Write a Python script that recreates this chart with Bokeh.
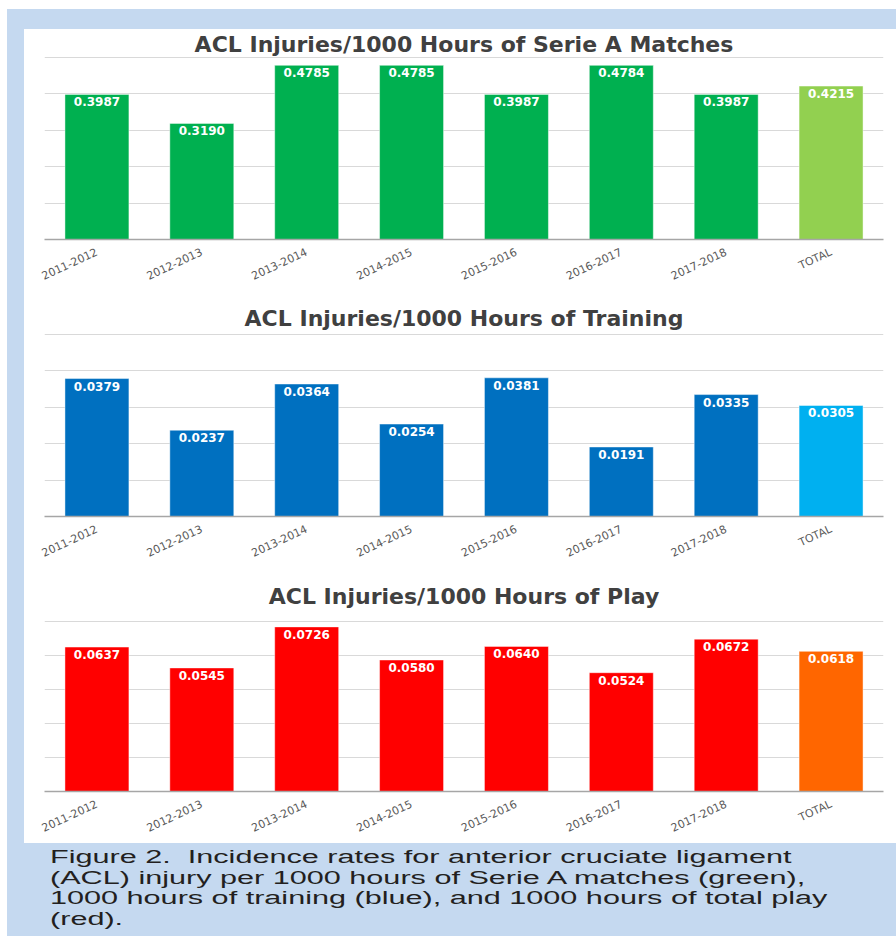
import math
from bokeh.plotting import figure
from bokeh.models import ColumnDataSource, FactorRange, Range1d, FixedTicker, LabelSet, Div
from bokeh.layouts import column, row
from bokeh.embed import file_html
from bokeh.resources import INLINE
from bokeh.core.properties import value

# ---------------- data ----------------
seasons = ["2011-2012", "2012-2013", "2013-2014", "2014-2015",
           "2015-2016", "2016-2017", "2017-2018", "TOTAL"]
matches_rate = [0.3987, 0.3190, 0.4785, 0.4785, 0.3987, 0.4784, 0.3987, 0.4215]
training_rate = [0.0379, 0.0237, 0.0364, 0.0254, 0.0381, 0.0191, 0.0335, 0.0305]
play_rate = [0.0637, 0.0545, 0.0726, 0.0580, 0.0640, 0.0524, 0.0672, 0.0618]

matches_ticks = [0, 0.1, 0.2, 0.3, 0.4, 0.5]
training_ticks = [0, 0.01, 0.02, 0.03, 0.04, 0.05]
play_ticks = [0, 0.015, 0.03, 0.045, 0.06, 0.075]

title_matches = "ACL Injuries/1000 Hours of Serie A Matches"
title_training = "ACL Injuries/1000 Hours of Training"
title_play = "ACL Injuries/1000 Hours of Play"

caption_lines = [
    "Figure 2.&nbsp; Incidence rates for anterior cruciate ligament",
    "(ACL) injury per 1000 hours of Serie A matches (green),",
    "1000 hours of training (blue), and 1000 hours of total play",
    "(red).",
]

BLUE_BG = "#c5d9f0"
FIG_W = 872
LABEL_ANGLE = 25
LABEL_STANDOFF = 12
LABEL_SIZE = "11px"
B_LEFT = 20
B_RIGHT = 13


def make_chart(title, rates, ticks, season_color, total_color,
               height, b_top, b_bottom, standoff):
    colors = [total_color if s == "TOTAL" else season_color for s in seasons]
    src = ColumnDataSource(dict(
        season=seasons, rate=rates, color=colors,
        label=[f"{v:.4f}" for v in rates],
    ))
    pad = (ticks[-1] - ticks[0]) / 180.0
    p = figure(
        x_range=FactorRange(*seasons), y_range=Range1d(ticks[0], ticks[-1] + pad),
        width=FIG_W, height=height, output_backend="svg", toolbar_location=None,
        min_border_left=B_LEFT, min_border_right=B_RIGHT,
        min_border_top=b_top, min_border_bottom=b_bottom,
        background_fill_color="white", border_fill_color="white",
    )
    p.outline_line_color = None
    p.title.text = title
    p.title.align = "center"
    p.title.text_font = "DejaVu Sans"
    p.title.text_font_style = "bold"
    p.title.text_font_size = "22px"
    p.title.text_color = "#404040"
    p.title.standoff = standoff

    p.vbar(x="season", top="rate", width=0.61, source=src,
           fill_color="color", line_color="white", line_alpha=0.45, line_width=1)
    p.text(x="season", y="rate", text="label", source=src,
           text_color="white", text_font=value("DejaVu Sans"), text_font_style="bold",
           text_font_size="12px", text_align="center", text_baseline="top", y_offset=3)

    p.yaxis.visible = False
    p.xgrid.visible = False
    p.ygrid.ticker = FixedTicker(ticks=ticks[1:])
    p.ygrid.grid_line_color = "#d9d9d9"
    p.ygrid.grid_line_width = 1

    ax = p.xaxis[0]
    ax.axis_line_color = "#a6a6a6"
    ax.axis_line_width = 1.5
    ax.major_tick_line_color = None
    ax.minor_tick_line_color = None
    ax.major_tick_out = 0
    ax.major_tick_in = 0
    ax.major_label_standoff = LABEL_STANDOFF
    ax.major_label_text_font = "DejaVu Sans"
    ax.major_label_text_font_size = LABEL_SIZE
    ax.major_label_text_color = "#595959"
    ax.major_label_orientation = math.radians(LABEL_ANGLE)
    ax.major_label_overrides = {"TOTAL": ""}

    tot_src = ColumnDataSource(dict(season=[seasons[-1]], base=[0], name=[seasons[-1]]))
    p.add_layout(LabelSet(x="season", y="base", text="name", source=tot_src,
                          angle=LABEL_ANGLE, angle_units="deg", y_offset=-20,
                          text_align="center", text_baseline="middle",
                          text_font=value("DejaVu Sans"), text_font_size=LABEL_SIZE,
                          text_color="#c00000"))
    return p


p1 = make_chart(title_matches, matches_rate, matches_ticks, "#00b050", "#92d050",
                263, 27, 53, 0)
p2 = make_chart(title_training, training_rate, training_ticks, "#0070c0", "#00b0f0",
                277, 41, 53, 5)
p3 = make_chart(title_play, play_rate, play_ticks, "#ff0000", "#ff6600",
                274, 51, 52, 24)

top = Div(text=(f"<div style='box-sizing:border-box;width:896px;height:29px;"
                f"border-top:9px solid #fff;border-left:7px solid #fff;background:{BLUE_BG}'></div>"),
          width=896, height=29, margin=0)
left = Div(text=(f"<div style='box-sizing:border-box;width:24px;height:814px;"
                 f"border-left:7px solid #fff;background:{BLUE_BG}'></div>"),
           width=24, height=814, margin=0)
cap_html = "<br>".join(caption_lines)
cap = Div(text=(f"<div style='box-sizing:border-box;width:896px;height:93px;"
                f"border-left:7px solid #fff;background:{BLUE_BG};padding:4px 0 0 43px;overflow:hidden'>"
                f"<div style='font-family:\"Liberation Sans\",Arial,sans-serif;font-size:18px;"
                f"line-height:20.5px;color:#231f20;white-space:nowrap;"
                f"transform:scaleX(1.7);transform-origin:left top'>{cap_html}</div></div>"),
          width=896, height=93, margin=0)

layout = column(top, row(left, column(p1, p2, p3, spacing=0), spacing=0), cap, spacing=0)

open("out.html", "w").write(file_html(layout, INLINE))
